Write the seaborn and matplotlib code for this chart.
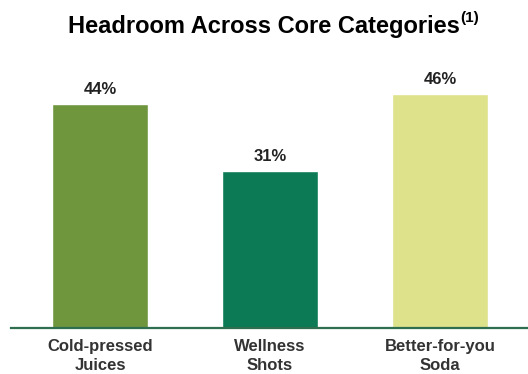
import matplotlib
matplotlib.use("Agg")
import matplotlib.pyplot as plt
import seaborn as sns
import pandas as pd

categories = ["Cold-pressed\nJuices", "Wellness\nShots", "Better-for-you\nSoda"]
values = [44, 31, 46]
labels = ["44%", "31%", "46%"]
colors = ["#6f963d", "#0b7a55", "#dde28b"]

sns.set_theme(style="white")
plt.rcParams["font.family"] = ["Liberation Sans", "DejaVu Sans"]

df = pd.DataFrame({"category": categories, "value": values})

fig = plt.figure(figsize=(5.28, 3.74), dpi=100)
ax = fig.add_axes([11 / 528, (374 - 328) / 374, 1 - 11 / 528, (328 - 60) / 374])
sns.barplot(data=df, x="category", y="value", hue="category", palette=colors,
            legend=False, width=0.57, saturation=1, ax=ax)

ax.set_xlim(-0.524, 2.518)
ax.set_ylim(0, 52.76)
for s in ["top", "right", "left"]:
    ax.spines[s].set_visible(False)
ax.spines["bottom"].set_color("#2f6e4f")
ax.spines["bottom"].set_linewidth(1.6)
ax.set_yticks([])
ax.set_xlabel("")
ax.set_ylabel("")
ax.tick_params(axis="x", length=0, pad=8)
for t in ax.get_xticklabels():
    t.set_fontsize(12)
    t.set_fontweight("bold")
    t.set_color("#333333")
    t.set_linespacing(1.36)

for i, (v, lab) in enumerate(zip(values, labels)):
    ax.annotate(lab, xy=(i, v), xytext=(0, 7.2), textcoords="offset points",
                ha="center", va="baseline", fontsize=12, fontweight="bold",
                color="#222222")

title = fig.text(0.5, 374 - 33, "Headroom Across Core Categories",
                 transform=None, ha="center", va="baseline",
                 fontsize=17, fontweight="bold", color="#000000")
fig.canvas.draw()
r = fig.canvas.get_renderer()
bb = title.get_window_extent(r)
w = bb.width
sup_w = 22
x0 = 275 - (w + sup_w) / 2
title.set_x(x0)
title.set_ha("left")
fig.canvas.draw()
bb = title.get_window_extent(r)
fig.text(bb.x1 + 0.5, 374 - 22, "(1)", transform=None, ha="left", va="baseline",
         fontsize=11, fontweight="bold", color="#000000")

fig.savefig("out.png", dpi=100)
